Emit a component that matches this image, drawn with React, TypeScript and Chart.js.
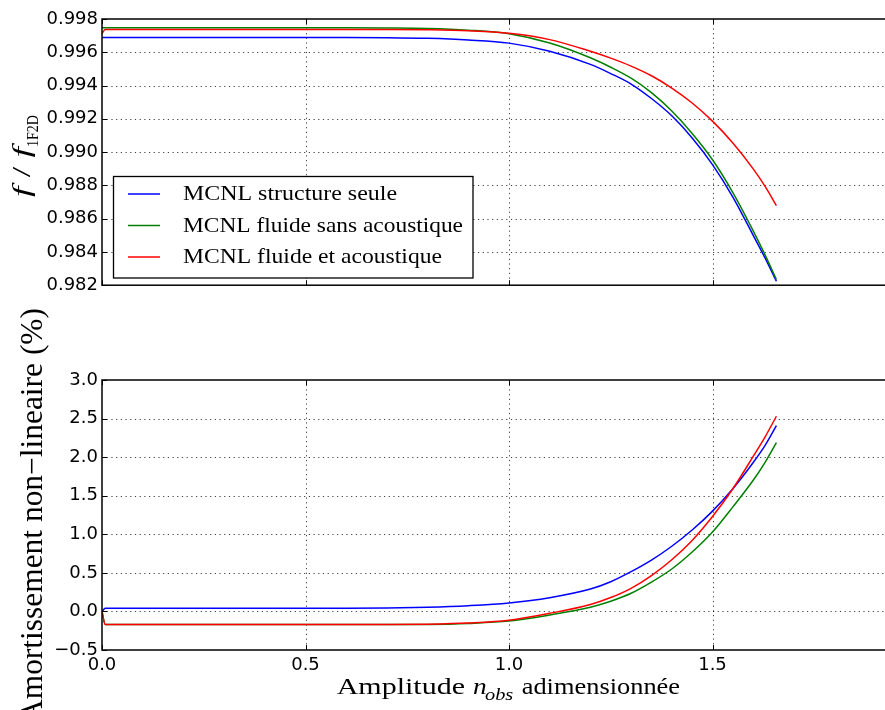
import React, { useEffect, useRef } from "react";
import { Chart, registerables } from "chart.js";

Chart.register(...registerables);

// ---------- data ----------
const amplitude = [0, 0.008, 0.2, 0.4, 0.6, 0.7, 0.8, 0.9, 1.0, 1.1, 1.2, 1.25, 1.3, 1.35, 1.4, 1.45, 1.5, 1.55, 1.6, 1.63, 1.657];

const freqStructure = [0.99689, 0.99689, 0.99689, 0.99689, 0.99689, 0.99688, 0.99684, 0.99674, 0.99655, 0.99606, 0.99527, 0.99472, 0.99409, 0.99322, 0.99218, 0.99085, 0.98925, 0.9873, 0.985, 0.9836, 0.98224];
const freqFluide = [0.99747, 0.99747, 0.99747, 0.99747, 0.99747, 0.99746, 0.99743, 0.99733, 0.99712, 0.99656, 0.99567, 0.9951, 0.99444, 0.99357, 0.99247, 0.99112, 0.98954, 0.98757, 0.98527, 0.98378, 0.98234];
const freqAcoustique = [0.99712, 0.99737, 0.99737, 0.99737, 0.99737, 0.99737, 0.99735, 0.99729, 0.99714, 0.99676, 0.99606, 0.99565, 0.99517, 0.99459, 0.99385, 0.99295, 0.99186, 0.99055, 0.98899, 0.98791, 0.98678];

const dampStructure = [0.0, 0.04, 0.04, 0.04, 0.04, 0.045, 0.055, 0.075, 0.11, 0.178, 0.29, 0.385, 0.515, 0.665, 0.845, 1.055, 1.3, 1.59, 1.93, 2.16, 2.41];
const dampFluide = [0.0, -0.17, -0.17, -0.17, -0.17, -0.17, -0.168, -0.155, -0.125, -0.046, 0.055, 0.132, 0.235, 0.38, 0.55, 0.77, 1.03, 1.355, 1.7, 1.94, 2.187];
const dampAcoustique = [0.0, -0.17, -0.17, -0.17, -0.17, -0.17, -0.165, -0.15, -0.115, -0.025, 0.09, 0.18, 0.3, 0.465, 0.67, 0.92, 1.23, 1.59, 2.01, 2.27, 2.53];

const seriesLabels = ["MCNL structure seule", "MCNL fluide sans acoustique", "MCNL fluide et acoustique"];
const seriesColors = ["#0000ff", "#008000", "#ff0000"];

const xTicks = [0, 0.5, 1.0, 1.5, 2.0];
const freqTicks = [0.982, 0.984, 0.986, 0.988, 0.99, 0.992, 0.994, 0.996, 0.998];
const dampTicks = [-0.5, 0.0, 0.5, 1.0, 1.5, 2.0, 2.5, 3.0];

// ---------- helpers ----------
const SERIF = "'Liberation Serif', 'DejaVu Serif', serif";
const SANS = "'DejaVu Sans', sans-serif";

type Part = { t: string; font: string; dy?: number };

function drawRun(ctx: CanvasRenderingContext2D, parts: Part[], x: number, y: number, width: number, angle = 0) {
  let natural = 0;
  const ws = parts.map((p) => {
    ctx.font = p.font;
    const w = ctx.measureText(p.t).width;
    natural += w;
    return w;
  });
  ctx.save();
  ctx.translate(x, y);
  if (angle) ctx.rotate(angle);
  ctx.scale(width / natural, 1);
  ctx.fillStyle = "#000";
  ctx.textBaseline = "alphabetic";
  ctx.textAlign = "left";
  let cx = 0;
  parts.forEach((p, i) => {
    ctx.font = p.font;
    ctx.fillText(p.t, cx, p.dy || 0);
    cx += ws[i];
  });
  ctx.restore();
}

const framePlugin = {
  id: "frame",
  beforeDatasetsDraw(chart: any) {
    const { ctx, chartArea: a } = chart;
    const xs = chart.scales.x;
    const ys = chart.scales.y;
    ctx.save();
    ctx.strokeStyle = "rgba(0,0,0,0.75)";
    ctx.lineWidth = 1;
    ctx.setLineDash([1.2, 3.5]);
    xs.ticks.forEach((t: any) => {
      const p = Math.round(xs.getPixelForValue(t.value)) + 0.5;
      if (p < a.left + 2 || p > a.right - 2) return;
      ctx.beginPath();
      ctx.moveTo(p, a.top);
      ctx.lineTo(p, a.bottom);
      ctx.stroke();
    });
    ys.ticks.forEach((t: any) => {
      const p = Math.round(ys.getPixelForValue(t.value)) + 0.5;
      if (p < a.top + 2 || p > a.bottom - 2) return;
      ctx.beginPath();
      ctx.moveTo(a.left, p);
      ctx.lineTo(a.right, p);
      ctx.stroke();
    });
    ctx.restore();
  },
  afterDatasetsDraw(chart: any) {
    const { ctx, chartArea: a } = chart;
    const xs = chart.scales.x;
    const ys = chart.scales.y;
    const L = 5;
    ctx.save();
    ctx.strokeStyle = "#000";
    ctx.setLineDash([]);
    ctx.lineWidth = 1;
    xs.ticks.forEach((t: any) => {
      const p = Math.round(xs.getPixelForValue(t.value)) + 0.5;
      ctx.beginPath();
      ctx.moveTo(p, a.bottom);
      ctx.lineTo(p, a.bottom - L);
      ctx.moveTo(p, a.top);
      ctx.lineTo(p, a.top + L);
      ctx.stroke();
    });
    ys.ticks.forEach((t: any) => {
      const p = Math.round(ys.getPixelForValue(t.value)) + 0.5;
      ctx.beginPath();
      ctx.moveTo(a.left, p);
      ctx.lineTo(a.left + L, p);
      ctx.moveTo(a.right, p);
      ctx.lineTo(a.right - L, p);
      ctx.stroke();
    });
    ctx.lineWidth = 1.5;
    ctx.strokeRect(a.left, a.top, a.right - a.left, a.bottom - a.top);
    ctx.restore();
  },
};

const topTextPlugin = {
  id: "topText",
  afterDraw(chart: any) {
    const ctx: CanvasRenderingContext2D = chart.ctx;
    // legend box
    ctx.save();
    ctx.fillStyle = "#fff";
    ctx.fillRect(113.5, 176.5, 359.5, 101.5);
    ctx.strokeStyle = "#000";
    ctx.lineWidth = 1.3;
    ctx.strokeRect(113.5, 176.5, 359.5, 101.5);
    const rowY = [194, 225.5, 257];
    const textW = [214, 280, 259];
    seriesLabels.forEach((lab, i) => {
      ctx.strokeStyle = seriesColors[i];
      ctx.lineWidth = 1.5;
      ctx.beginPath();
      ctx.moveTo(128, rowY[i]);
      ctx.lineTo(160, rowY[i]);
      ctx.stroke();
      drawRun(ctx, [{ t: lab, font: `21px ${SERIF}` }], 183, rowY[i] + 6.3, textW[i]);
    });
    ctx.restore();
    // y title  f / f_1F2D
    drawRun(
      ctx,
      [
        { t: "f", font: `italic 26px ${SERIF}` },
        { t: " / ", font: `26px ${SERIF}` },
        { t: "f", font: `italic 26px ${SERIF}` },
      ],
      30,
      197,
      50,
      -Math.PI / 2
    );
    drawRun(ctx, [{ t: "1F2D", font: `16px ${SERIF}`, dy: 8 }], 30, 147, 32, -Math.PI / 2);
  },
};

const bottomTextPlugin = {
  id: "bottomText",
  afterDraw(chart: any) {
    const ctx: CanvasRenderingContext2D = chart.ctx;
    // x title (page baseline y=694 -> canvas 394)
    const by = 394;
    drawRun(ctx, [{ t: "Amplitude", font: `24px ${SERIF}` }], 336.7, by, 128.3);
    drawRun(ctx, [{ t: "n", font: `italic 24px ${SERIF}` }], 473, by, 13.7);
    drawRun(ctx, [{ t: "obs", font: `italic 17px ${SERIF}` }], 485, by + 6, 28.3);
    drawRun(ctx, [{ t: "adimensionnée", font: `24px ${SERIF}` }], 521.7, by, 158.3);
    // y title, centred at page y=515 -> canvas 215
    drawRun(ctx, [{ t: "Amortissement non\u2212lineaire (%)", font: `31px ${SERIF}` }], 42, 215 + 207, 414, -Math.PI / 2);
  },
};

function datasets(series: number[][]) {
  return series.map((vals, i) => ({
    label: seriesLabels[i],
    data: amplitude.map((x, j) => ({ x, y: vals[j] })),
    borderColor: seriesColors[i],
    backgroundColor: seriesColors[i],
    borderWidth: 1.5,
    pointRadius: 0,
    fill: false,
    cubicInterpolationMode: "monotone" as const,
    order: 2 - i,
  }));
}

const tickFont = { family: SANS, size: 18 };

function xScale(showLabels: boolean, height: number) {
  return {
    type: "linear" as const,
    min: 0,
    max: 2,
    afterBuildTicks: (s: any) => {
      s.ticks = xTicks.map((v) => ({ value: v }));
    },
    ticks: {
      display: showLabels,
      font: tickFont,
      color: "#000",
      padding: 5,
      maxRotation: 0,
      autoSkip: false,
      callback: (v: any) => (Number(v) >= 2 ? "" : Number(v).toFixed(1)),
    },
    grid: { display: false, drawTicks: false },
    border: { display: false },
    afterFit: (s: any) => {
      s.height = height;
    },
  };
}

function yScale(min: number, max: number, ticks: number[], fmt: (v: number) => string) {
  return {
    type: "linear" as const,
    min,
    max,
    afterBuildTicks: (s: any) => {
      s.ticks = ticks.map((v) => ({ value: v }));
    },
    ticks: {
      font: tickFont,
      color: "#000",
      padding: 4,
      autoSkip: false,
      callback: (v: any) => fmt(Number(v)),
    },
    grid: { display: false, drawTicks: false },
    border: { display: false },
    afterFit: (s: any) => {
      s.width = 102;
    },
  };
}

export default function App() {
  const topRef = useRef<HTMLCanvasElement>(null);
  const botRef = useRef<HTMLCanvasElement>(null);

  useEffect(() => {
    const top = new Chart(topRef.current!, {
      type: "line",
      data: { datasets: datasets([freqStructure, freqFluide, freqAcoustique]) as any },
      options: {
        animation: false,
        responsive: false,
        devicePixelRatio: 1,
        layout: { padding: { top: 19, left: 0, right: 0, bottom: 0 } },
        plugins: { legend: { display: false }, tooltip: { enabled: false } },
        scales: {
          x: xScale(false, 11),
          y: yScale(0.982, 0.998, freqTicks, (v) => v.toFixed(3)),
        },
      } as any,
      plugins: [framePlugin, topTextPlugin],
    });
    const bot = new Chart(botRef.current!, {
      type: "line",
      data: { datasets: datasets([dampStructure, dampFluide, dampAcoustique]) as any },
      options: {
        animation: false,
        responsive: false,
        devicePixelRatio: 1,
        layout: { padding: { top: 80, left: 0, right: 0, bottom: 0 } },
        plugins: { legend: { display: false }, tooltip: { enabled: false } },
        scales: {
          x: xScale(true, 60),
          y: yScale(-0.5, 3.0, dampTicks, (v) => (v < 0 ? "\u2212" : "") + Math.abs(v).toFixed(1)),
        },
      } as any,
      plugins: [framePlugin, bottomTextPlugin],
    });
    return () => {
      top.destroy();
      bot.destroy();
    };
  }, []);

  return (
    <div
      style={{
        position: "absolute",
        left: 0,
        top: 0,
        width: 885,
        height: 710,
        overflow: "hidden",
        background: "#fff",
      }}
    >
      <canvas
        ref={topRef}
        width={916}
        height={300}
        style={{ position: "absolute", left: 0, top: 0, width: 916, height: 300 }}
      />
      <canvas
        ref={botRef}
        width={921}
        height={410}
        style={{ position: "absolute", left: 0, top: 300, width: 921, height: 410 }}
      />
    </div>
  );
}
